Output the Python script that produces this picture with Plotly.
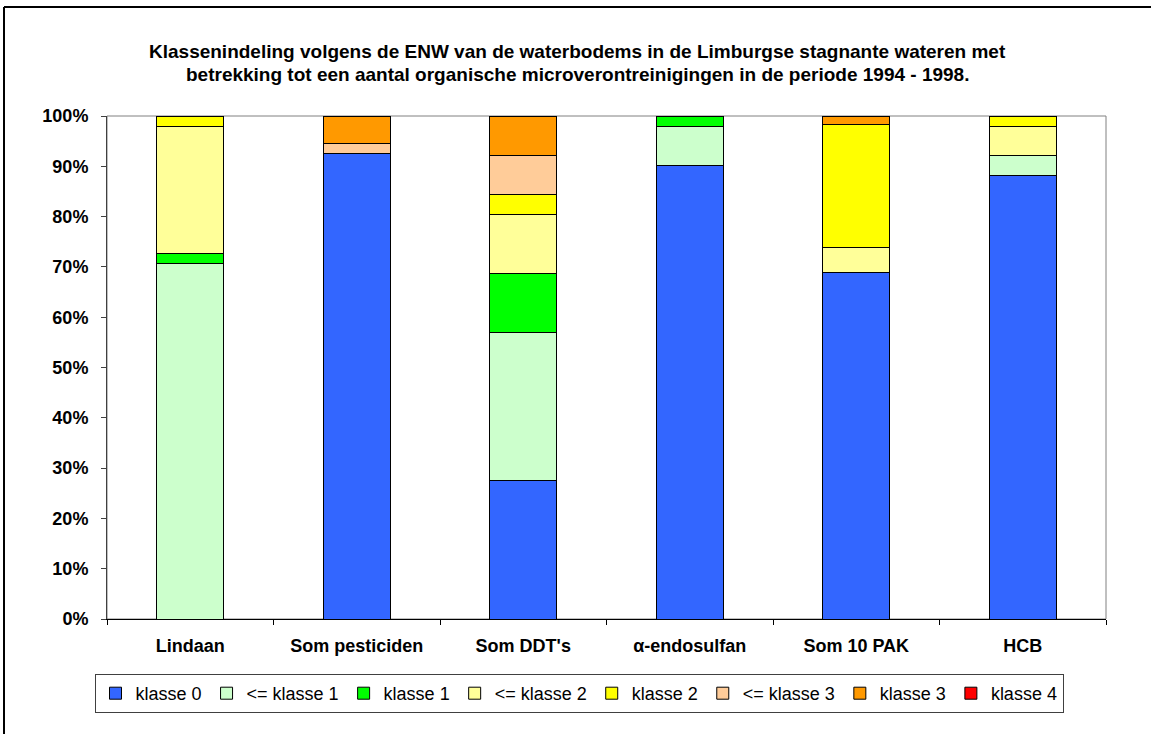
import plotly.graph_objects as go

categories = ["Lindaan", "Som pesticiden", "Som DDT's", "α-endosulfan", "Som 10 PAK", "HCB"]
series_names = ["klasse 0", "<= klasse 1", "klasse 1", "<= klasse 2", "klasse 2", "<= klasse 3", "klasse 3", "klasse 4"]
colors = ["#3366FF", "#CCFFCC", "#00FF00", "#FFFF99", "#FFFF00", "#FFCC99", "#FF9900", "#FF0000"]

klasse0 = [0, 92.6, 27.5, 90.2, 68.9, 88.2]
le_klasse1 = [70.6, 0, 29.4, 7.8, 0, 3.9]
klasse1 = [2.0, 0, 11.8, 2.0, 0, 0]
le_klasse2 = [25.4, 0, 11.8, 0, 4.9, 5.9]
klasse2 = [2.0, 0, 3.9, 0, 24.5, 2.0]
le_klasse3 = [0, 1.9, 7.8, 0, 0, 0]
klasse3 = [0, 5.5, 7.8, 0, 1.7, 0]
klasse4 = [0, 0, 0, 0, 0, 0]

y_tick_values = [0, 10, 20, 30, 40, 50, 60, 70, 80, 90, 100]
y_tick_labels = ["0%", "10%", "20%", "30%", "40%", "50%", "60%", "70%", "80%", "90%", "100%"]

series = [klasse0, le_klasse1, klasse1, le_klasse2, klasse2, le_klasse3, klasse3, klasse4]

FONT = "Arial, Liberation Sans, sans-serif"

fig = go.Figure()
for name, vals, col in zip(series_names, series, colors):
    fig.add_trace(go.Bar(
        x=categories, y=vals, name=name,
        marker=dict(color=col, line=dict(color="black", width=1)),
    ))

W, H = 1151, 734
L, R, T, B = 107, 45, 116, 115
pw = W - L - R
ph = H - T - B

def px_x(x):
    return (x - L) / pw

def px_y(y):
    return (H - B - y) / ph

fig.update_layout(
    width=W, height=H,
    barmode="stack", bargap=0.6,
    margin=dict(l=L, r=R, t=T, b=B),
    paper_bgcolor="white", plot_bgcolor="white",
    font=dict(family=FONT, color="black"),
    showlegend=True,
    legend=dict(
        orientation="h", x=px_x(579), xanchor="center", y=px_y(674), yanchor="top",
        bordercolor="#404040", borderwidth=1, font=dict(size=18, family=FONT),
        traceorder="normal", itemwidth=30, tracegroupgap=0,
    ),
    xaxis=dict(
        showline=True, linecolor="black", linewidth=1,
        ticks="outside", ticklen=5, tickcolor="black", tickson="boundaries",
        tickfont=dict(size=18, family=FONT, weight="bold"),
        ticklabelstandoff=10,
    ),
    yaxis=dict(
        range=[0, 100], tickmode="array", tickvals=y_tick_values, ticktext=y_tick_labels,
        showline=True, linecolor="#404040", linewidth=1,
        ticks="outside", ticklen=5, tickcolor="#404040",
        showgrid=False, zeroline=False,
        tickfont=dict(size=18, family=FONT, weight="bold"),
        ticklabelstandoff=9,
    ),
    shapes=[
        dict(type="rect", xref="paper", yref="paper", x0=0, x1=1, y0=0, y1=1,
             line=dict(color="#808080", width=1), layer="below"),
        dict(type="line", xref="paper", yref="paper", x0=px_x(4), x1=px_x(1160),
             y0=px_y(7), y1=px_y(7), line=dict(color="black", width=2)),
        dict(type="line", xref="paper", yref="paper", x0=px_x(4), x1=px_x(4),
             y0=px_y(7), y1=px_y(760), line=dict(color="black", width=2)),
    ],
    annotations=[
        dict(text="<b>Klassenindeling volgens de ENW van de waterbodems in de Limburgse stagnante wateren met</b>",
             xref="paper", yref="paper", x=px_x(577), y=px_y(51), xanchor="center", yanchor="middle",
             showarrow=False, font=dict(size=19, family=FONT)),
        dict(text="<b>betrekking tot een aantal organische microverontreinigingen in de periode 1994 - 1998.</b>",
             xref="paper", yref="paper", x=px_x(577), y=px_y(75), xanchor="center", yanchor="middle",
             showarrow=False, font=dict(size=19, family=FONT)),
    ],
)

fig.write_html("out.html")
